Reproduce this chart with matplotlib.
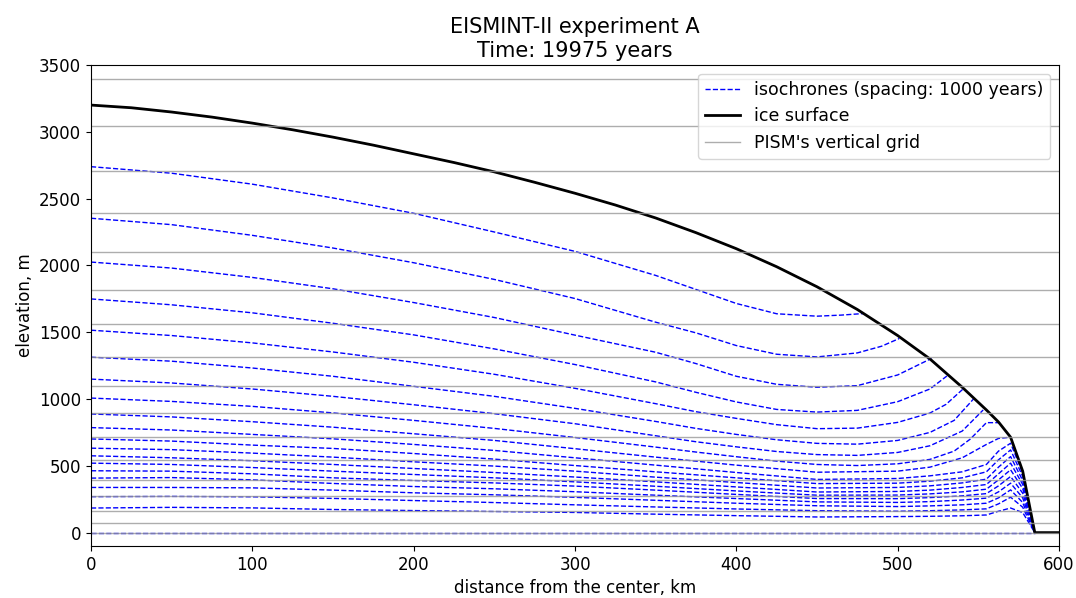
import numpy as np
import matplotlib
matplotlib.use("Agg")
import matplotlib.pyplot as plt

# PISM vertical grid levels, m
grid_z = [0, 72, 162, 271, 396, 543, 714, 893, 1099, 1316, 1560, 1819,
          2097, 2393, 2709, 3040, 3393]

# ice surface
surf_x = [0, 25, 50, 75, 100, 125, 150, 175, 200, 225, 250, 275, 300, 325,
          350, 375, 400, 425, 450, 475, 500, 520, 540, 555, 562.5, 570,
          577.5, 585, 600]
surf_z = [3200, 3180, 3148, 3110, 3065, 3015, 2960, 2900, 2835, 2770, 2700,
          2622, 2540, 2452, 2355, 2245, 2125, 1990, 1840, 1670, 1475, 1300,
          1088, 918, 828, 714, 460, 0, 0]

# isochrones (youngest first), upper ones end at the surface
iso01_x = [0, 50, 100, 150, 200, 250, 300, 350, 375, 400, 425, 450, 465, 479]
iso01_z = [2739, 2690, 2608, 2505, 2390, 2250, 2105, 1925, 1820, 1715, 1638,
           1620, 1628, 1640]

iso02_x = [0, 50, 100, 150, 200, 250, 300, 350, 375, 400, 425, 450, 475, 490, 501]
iso02_z = [2353, 2305, 2225, 2130, 2020, 1895, 1752, 1575, 1495, 1400, 1335,
           1315, 1345, 1395, 1453]

iso03_x = [0, 50, 100, 150, 200, 250, 300, 350, 375, 400, 425, 450, 475, 500, 521]
iso03_z = [2025, 1980, 1910, 1825, 1722, 1610, 1478, 1350, 1265, 1170, 1110,
           1088, 1100, 1180, 1304]

iso04_x = [0, 50, 100, 150, 200, 250, 300, 350, 375, 400, 425, 450, 475, 500,
           520, 530.5]
iso04_z = [1749, 1705, 1645, 1567, 1480, 1375, 1258, 1128, 1050, 978, 922, 902,
           915, 980, 1075, 1172]

iso05_x = [0, 50, 100, 150, 200, 250, 300, 350, 375, 400, 425, 450, 475, 500,
           520, 530, 541]
iso05_z = [1515, 1475, 1420, 1352, 1275, 1185, 1080, 965, 905, 855, 808, 778,
           782, 825, 895, 960, 1080]

iso06_x = [0, 50, 100, 150, 200, 250, 300, 350, 375, 400, 425, 450, 475, 500,
           520, 535, 547]
iso06_z = [1313, 1283, 1232, 1170, 1095, 1020, 930, 832, 780, 735, 695, 668,
           662, 690, 750, 840, 1000]

iso07_x = [0, 50, 100, 150, 200, 250, 300, 350, 375, 400, 425, 450, 475, 500,
           520, 540, 553]
iso07_z = [1149, 1120, 1075, 1020, 957, 890, 815, 725, 680, 642, 607, 584, 578,
           600, 650, 760, 918]

iso08_x = [0, 50, 100, 150, 200, 250, 300, 350, 375, 400, 425, 450, 475, 500,
           520, 535, 545, 555, 562.5]
iso08_z = [1007, 982, 945, 896, 840, 780, 712, 640, 603, 568, 535, 510, 502,
           515, 548, 610, 700, 823, 823]

iso09_x = [0, 50, 100, 150, 200, 250, 300, 350, 400, 450, 500, 520, 540, 555,
           562.5, 570]
iso09_z = [888, 866, 830, 789, 740, 690, 628, 565, 505, 452, 460, 490, 560, 660,
           705, 714]

# deeper isochrones share the same x positions and reach the ice front
low_x = [0, 50, 100, 150, 200, 250, 300, 350, 400, 450, 500, 520, 540, 555,
         562.5, 570, 577.5, 585]
iso10_z = [786, 768, 735, 702, 660, 615, 560, 505, 450, 398, 405, 425, 455, 510, 610, 669, 445, 0]
iso11_z = [701, 685, 655, 630, 592, 550, 502, 455, 410, 367, 370, 385, 410, 455, 545, 619, 420, 0]
iso12_z = [632, 621, 595, 565, 530, 498, 460, 415, 375, 334, 338, 350, 372, 400, 490, 569, 390, 0]
iso13_z = [575, 560, 538, 510, 480, 450, 416, 380, 342, 304, 308, 318, 338, 360, 440, 520, 360, 0]
iso14_z = [520, 510, 487, 460, 435, 410, 380, 347, 312, 280, 281, 290, 305, 325, 395, 470, 330, 0]
iso15_z = [463, 460, 440, 410, 390, 372, 348, 318, 286, 255, 254, 262, 275, 292, 350, 420, 295, 0]
iso16_z = [408, 412, 395, 368, 345, 328, 306, 280, 255, 230, 226, 232, 244, 258, 305, 370, 260, 0]
iso17_z = [338, 338, 335, 318, 298, 283, 264, 242, 220, 201, 195, 200, 208, 220, 260, 320, 225, 0]
iso18_z = [269, 271, 268, 256, 240, 225, 208, 192, 177, 164, 160, 164, 170, 178, 215, 265, 190, 0]
iso19_z = [184, 189, 185, 173, 165, 158, 151, 138, 127, 117, 120, 122, 126, 132, 160, 184, 150, 0]

bed_x = [0, 585]
bed_z = [0, 0]

isochrones = [
    (iso01_x, iso01_z), (iso02_x, iso02_z), (iso03_x, iso03_z),
    (iso04_x, iso04_z), (iso05_x, iso05_z), (iso06_x, iso06_z),
    (iso07_x, iso07_z), (iso08_x, iso08_z), (iso09_x, iso09_z),
    (low_x, iso10_z), (low_x, iso11_z), (low_x, iso12_z), (low_x, iso13_z),
    (low_x, iso14_z), (low_x, iso15_z), (low_x, iso16_z), (low_x, iso17_z),
    (low_x, iso18_z), (low_x, iso19_z), (bed_x, bed_z),
]

fig = plt.figure(figsize=(10.76, 5.98), dpi=100)
ax = fig.add_axes([0.0846, 0.087, 0.8996, 0.8043])

for i, (xs, zs) in enumerate(isochrones):
    ax.plot(xs, zs, 'b--', lw=1,
            label="isochrones (spacing: 1000 years)" if i == 0 else None)

ax.plot(surf_x, surf_z, 'k-', lw=2, label="ice surface")

for i, z in enumerate(grid_z):
    ax.axhline(z, color='0.6', lw=1, alpha=0.8,
               label="PISM's vertical grid" if i == 0 else None)

ax.set_xlim(0, 600)
ax.set_ylim(-100, 3500)
ax.tick_params(labelsize=12)
ax.set_xlabel("distance from the center, km", fontsize=12)
ax.set_ylabel("elevation, m", fontsize=12)
ax.set_title("EISMINT-II experiment A\nTime: 19975 years", fontsize=15)
ax.legend(loc='upper right', fontsize=12.5)

fig.savefig("out.png", dpi=100)
